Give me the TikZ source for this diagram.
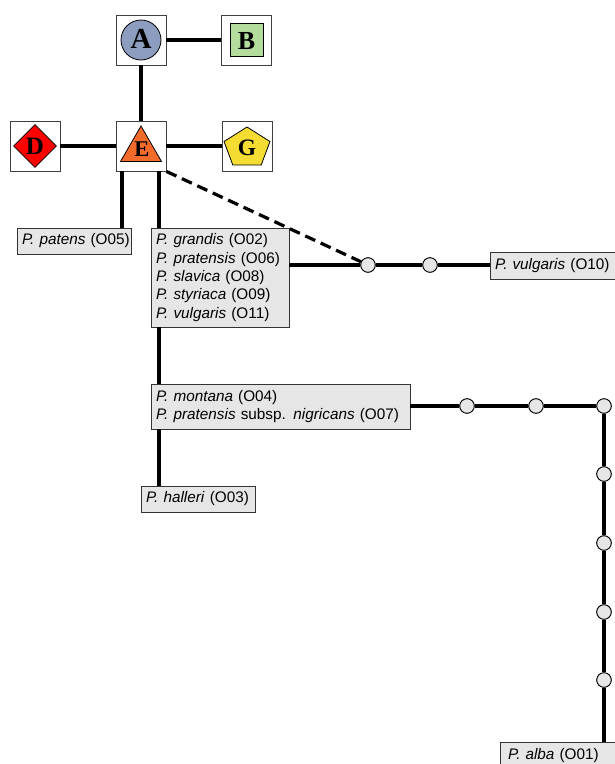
\documentclass[tikz,border=0pt]{standalone}
\usepackage{fontspec}
\setmainfont{Liberation Sans}
\newfontfamily\symfont{Liberation Serif}
\usetikzlibrary{shapes.geometric}
\definecolor{boxgray}{HTML}{E6E6E6}
\definecolor{acol}{HTML}{8D9DC0}
\definecolor{bcol}{HTML}{B4DC9C}
\definecolor{dcol}{HTML}{FF0000}
\definecolor{ecol}{HTML}{F26B2A}
\definecolor{gcol}{HTML}{F5DC32}
\newcommand{\tl}[1]{\mbox{#1}}
\newcommand{\ls}[1]{\fontsize{#1}{#1}\selectfont}
\tikzset{
  frame/.style={draw=black!75, line width=0.9pt, fill=white, minimum size=50pt, inner sep=0pt},
  symb/.style={draw=black, line width=0.8pt, inner sep=0pt},
  letter/.style={inner sep=0pt, font=\symfont\bfseries},
  taxon/.style={draw=black!80, line width=0.9pt, fill=boxgray, inner xsep=5pt, inner ysep=3pt, align=left,
     font=\fontsize{15.3}{18.4}\selectfont},
  link/.style={line width=3.2pt, black},
  dashlink/.style={line width=3.2pt, black, dash pattern=on 11pt off 6pt},
  dot/.style={circle, draw=black, line width=0.8pt, fill=boxgray, minimum size=14.5pt, inner sep=0pt}
}
\begin{document}
\begin{tikzpicture}[x=1pt,y=-1pt]
\useasboundingbox (0,0) rectangle (614,764);
% frames
\node[frame] (A) at (141,40) {};
\node[frame] (B) at (246.5,40) {};
\node[frame] (D) at (35,146) {};
\node[frame] (E) at (141,146) {};
\node[frame] (G) at (247,146) {};
% symbols
\node[symb, circle, fill=acol, minimum size=40pt] (As) at (A) {};
\node[letter] (At) at (141,39) {\ls{29}A};
\node[symb, rectangle, fill=bcol, minimum size=33pt] (Bs) at (B) {};
\node[letter] (Bt) at (246.5,41.5) {\ls{26}B};
\node[symb, diamond, fill=dcol, minimum width=43pt, minimum height=43pt, aspect=1] (Ds) at (D) {};
\node[letter] (Dt) at (35,146) {\ls{25}D};
\node[symb, regular polygon, regular polygon sides=3, fill=ecol, minimum size=47.4pt] (Es) at (141,149.7) {};
\node[letter] (Et) at (142,149.5) {\ls{22.5}E};
\node[symb, regular polygon, regular polygon sides=5, fill=gcol, minimum size=42pt, xscale=1.15] (Gs) at (247,148) {};
\node[letter] (Gt) at (247,147.5) {\ls{23.5}G};
% taxon boxes
\node[taxon, minimum width=114pt, minimum height=26pt, text width=104pt] (pat) at (74,241) {\tl{\textit{P. patens} (O05)}};
\node[taxon, minimum width=138pt, minimum height=99pt, text width=128pt] (big) at (220,277.5)
  {\tl{\textit{P. grandis} (O02)}\\\tl{\textit{P. pratensis} (O06)}\\\tl{\textit{P. slavica} (O08)}\\\tl{\textit{P. styriaca} (O09)}\\\tl{\textit{P. vulgaris} (O11)}};
\node[taxon, minimum width=128pt, minimum height=27pt, text width=118pt] (vul) at (554,265.5) {\tl{\textit{P. vulgaris} (O10)}};
\node[taxon, minimum width=259pt, minimum height=45pt, text width=249pt] (mon) at (280.5,406.5)
  {\tl{\textit{P. montana} (O04)}\\\tl{\textit{P. pratensis} subsp. \textit{nigricans} (O07)}};
\node[taxon, minimum width=114pt, minimum height=26pt, text width=104pt] (hal) at (198,499) {\tl{\textit{P. halleri} (O03)}};
\node[taxon, minimum width=122pt, minimum height=28pt, text width=106pt, inner xsep=8pt] (alb) at (561,756) {\tl{\textit{P. alba} (O01)}};
% dots
\node[dot] (c1) at (368,265) {};
\node[dot] (c2) at (430,265) {};
\node[dot] (m1) at (467,406) {};
\node[dot] (m2) at (536,406) {};
\node[dot] (m3) at (604,406) {};
\node[dot] (v1) at (604,474) {};
\node[dot] (v2) at (604,543) {};
\node[dot] (v3) at (604,612) {};
\node[dot] (v4) at (604,680) {};
% coordinates
\coordinate (e1) at (122,171);
\coordinate (e2) at (159,171);
% links
\draw[link] (A) -- (B);
\draw[link] (A) -- (E);
\draw[link] (D) -- (E);
\draw[link] (E) -- (G);
\draw[link] (e1) -- (e1 |- pat.north);
\draw[link] (e2) -- (e2 |- big.north);
\draw[link] (e2 |- big.south) -- (e2 |- mon.north);
\draw[link] (e2 |- mon.south) -- (e2 |- hal.north);
\draw[dashlink] (E.south east) -- (c1);
\draw[link] (c1 -| big.east) -- (c1);
\draw[link] (c1) -- (c2);
\draw[link] (c2) -- (c2 -| vul.west);
\draw[link] (m1 -| mon.east) -- (m1);
\draw[link] (m1) -- (m2);
\draw[link] (m2) -- (m3);
\draw[link] (m3) -- (v1);
\draw[link] (v1) -- (v2);
\draw[link] (v2) -- (v3);
\draw[link] (v3) -- (v4);
\draw[link] (v4) -- (v4 |- alb.north);
% redraw dots on top
\foreach \n in {c1,c2,m1,m2,m3,v1,v2,v3,v4}
  \node[dot] at (\n) {};
\end{tikzpicture}
\end{document}
